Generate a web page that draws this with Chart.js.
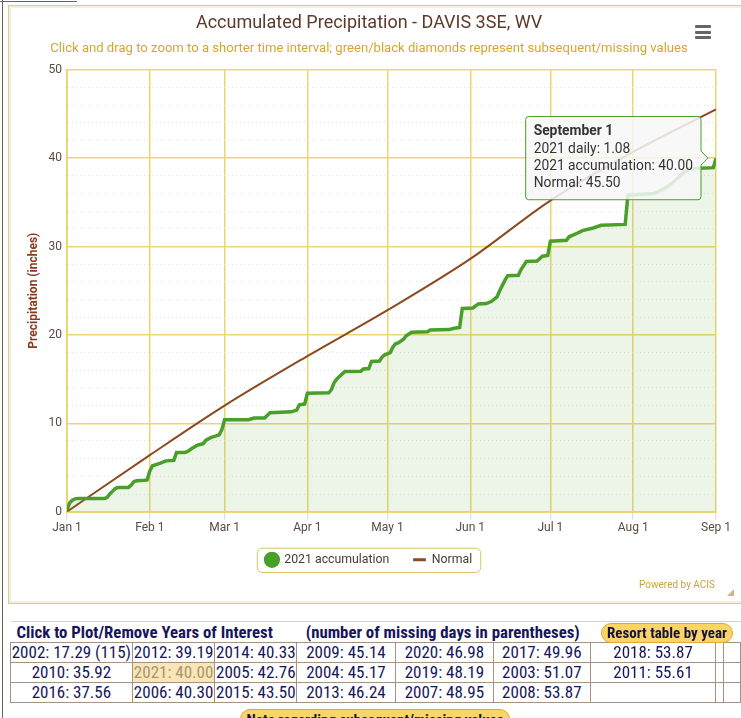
<!DOCTYPE html>
<html>
<head>
<meta charset="utf-8">
<script src="https://cdn.jsdelivr.net/npm/chart.js@4/dist/chart.umd.min.js"></script>
<style>
  body { margin: 0; background: #fff; width: 741px; height: 718px; overflow: hidden; position: relative; font-family: Roboto, sans-serif; }
  #edge { position: absolute; left: 2px; top: 0; width: 1px; height: 718px; background: #7b5e52; }
  #tab { position: absolute; left: 0; top: 1px; width: 77px; height: 1px; background: #7b5e52; }
  #frame { position: absolute; left: 8px; top: 5px; width: 760px; height: 597px; border: 1px solid #d9c99c; box-shadow: inset 0 0 0 2px #f4eedb; }
  #wrap { position: absolute; left: 9px; top: 6px; width: 729px; height: 596px; }
  #menu { position: absolute; left: 695px; top: 25px; width: 16px; }
  #menu div { height: 3px; background: #666; margin-bottom: 2.5px; border-radius: 1px; }
  #credit { position: absolute; right: 26px; top: 579px; font-size: 10px; color: #c9a43c; }
  #grip { position: absolute; left: 727px; top: 589px; width: 0; height: 0; border-left: 7px solid transparent; border-bottom: 7px solid #c8b88a; }
  #yrs { position: absolute; left: 10px; top: 621px; border-collapse: collapse; table-layout: fixed;
         font-family: "Liberation Sans Narrow", "Roboto Condensed", Roboto, sans-serif; font-size: 17px; color: #16165a; }
  #yrs td { border: 1px solid #a8917f; height: 19px; padding: 0; text-align: center; white-space: nowrap; overflow: hidden; line-height: 19px; }
  #yrs tr.hd td { border-top-color: #d6d0c8; border-left: none; border-right: none; font-weight: bold; text-align: left; height: 20px; font-size: 16.8px; }
  #yrs td.sel { background: #fbe5b6; color: #a39672; }
  .btn { position: absolute; background: #f9d468; border: 1px solid #e0ab33; border-radius: 10px;
         font-family: "Liberation Sans Narrow", "Roboto Condensed", Roboto, sans-serif; font-weight: bold; color: #14143a; text-align: center; }
</style>
</head>
<body>
<div id="edge"></div>
<div id="tab"></div>
<div id="frame"></div>
<div id="wrap"><canvas id="precipChart"></canvas></div>
<div id="menu"><div></div><div></div><div></div></div>
<div id="credit">Powered by ACIS</div>
<div id="grip"></div>
<table id="yrs"></table>
<div class="btn" style="left:601px; top:623px; width:130px; height:18px; line-height:18px; font-size:15px;">Resort table by year</div>
<div class="btn" style="left:240px; top:709px; width:268px; height:20px; line-height:20px; font-size:15px;">Note regarding subsequent/missing values</div>

<script>
// day of year (0 = Jan 1) and 2021 accumulated precipitation (inches)
const days2021 = [0, 1, 2, 3, 4, 14, 15, 16, 17, 18, 19, 23, 24, 25, 26, 29, 30, 31, 32, 33,
  35, 37, 40, 41, 44, 45, 47, 49, 51, 52, 54, 55, 57, 58, 59, 68, 70, 74, 76, 84,
  86, 87, 89, 90, 98, 99, 100, 101, 102, 104, 110, 111, 113, 114, 117, 118, 119, 121, 122, 123,
  124, 126, 127, 129, 135, 136, 143, 145, 147, 148, 152, 154, 157, 159, 161, 162, 163, 164, 165, 169,
  170, 172, 176, 178, 180, 181, 187, 188, 191, 193, 197, 200, 209, 210, 220, 222, 225, 227, 229, 231,
  233, 242, 243];
const accum2021 = [0.2, 1.0, 1.3, 1.45, 1.5, 1.5, 1.6, 2.0, 2.3, 2.6, 2.75, 2.75, 3.0, 3.4, 3.5, 3.55, 3.6, 4.6, 5.2, 5.3,
  5.5, 5.75, 5.8, 6.7, 6.7, 6.8, 7.2, 7.55, 7.7, 8.1, 8.4, 8.5, 8.7, 9.3, 10.4, 10.4, 10.6, 10.6, 11.2, 11.3,
  11.5, 12.1, 12.2, 13.4, 13.45, 13.8, 14.6, 15.0, 15.3, 15.85, 15.9, 16.15, 16.2, 17.0, 17.05, 17.5, 17.75, 18.0, 18.6, 19.0,
  19.1, 19.5, 19.9, 20.3, 20.35, 20.55, 20.6, 20.75, 20.85, 23.0, 23.05, 23.5, 23.55, 23.8, 24.3, 25.0, 25.6, 26.2, 26.7, 26.75,
  27.4, 28.3, 28.35, 28.9, 29.0, 30.6, 30.7, 31.1, 31.5, 31.8, 32.1, 32.4, 32.5, 35.8, 36.0, 36.3, 36.8, 37.3, 37.8, 38.4,
  38.8, 38.92, 40.0];

// normal accumulation at the start of each month
const monthDays = [0, 31, 59, 90, 120, 151, 181, 212, 243];
const monthLabels = ['Jan 1', 'Feb 1', 'Mar 1', 'Apr 1', 'May 1', 'Jun 1', 'Jul 1', 'Aug 1', 'Sep 1'];
const normalAccum = [0, 6.4, 12.0, 17.6, 22.8, 28.6, 35.2, 40.7, 45.5];

const tooltipDate = 'September 1';

// table of year totals below the chart (row by row)
const yearRows = [
  ['2002: 17.29 (115)', '2012: 39.19', '2014: 40.33', '2009: 45.14', '2020: 46.98', '2017: 49.96', '2018: 53.87'],
  ['2010: 35.92', '2021: 40.00', '2005: 42.76', '2004: 45.17', '2019: 48.19', '2003: 51.07', '2011: 55.61'],
  ['2016: 37.56', '2006: 40.30', '2015: 43.50', '2013: 46.24', '2007: 48.95', '2008: 53.87', '']
];

const green = '#4a9f2a';
const brown = '#8b4a1f';
const gridYellow = '#ecd674';

// build the table
const colWidths = [122, 83, 82, 99, 99, 97, 133, 8, 20];
const table = document.getElementById('yrs');
let html = '<colgroup>' + colWidths.map(w => '<col style="width:' + w + 'px">').join('') + '</colgroup>';
html += '<tr class="hd"><td colspan="3" style="padding-left:6px">Click to Plot/Remove Years of Interest</td>' +
        '<td colspan="3" style="padding-left:9px">(number of missing days in parentheses)</td><td colspan="3"></td></tr>';
yearRows.forEach(row => {
  html += '<tr>' + row.map(c => '<td' + (c.startsWith('2021') ? ' class="sel"' : '') + '>' + c + '</td>').join('') + '<td></td><td></td></tr>';
});
table.innerHTML = html;

Chart.defaults.font.family = 'Roboto, "Noto Sans", sans-serif';
Chart.Tooltip.positioners.first = function (items) {
  if (!items.length) return false;
  return { x: items[0].element.x, y: items[0].element.y };
};

// the x axis is kept short so the legend sits close; let its labels draw below it
const axisRoom = {
  id: 'axisRoom',
  afterLayout(chart) {
    const x = chart.scales.x;
    x.bottom = x.top + 34;
  }
};

const legendBox = {
  id: 'legendBox',
  afterDraw(chart) {
    const boxes = chart.legend.legendHitBoxes;
    if (!boxes || !boxes.length) return;
    const left = Math.min(...boxes.map(b => b.left)) - 9;
    const right = Math.max(...boxes.map(b => b.left + b.width)) + 8;
    const top = Math.min(...boxes.map(b => b.top)) - 6;
    const bottom = Math.max(...boxes.map(b => b.top + b.height)) + 6;
    const ctx = chart.ctx;
    ctx.save();
    ctx.strokeStyle = '#d9c26a';
    ctx.lineWidth = 1;
    ctx.beginPath();
    ctx.roundRect(left + 0.5, top + 0.5, right - left, bottom - top, 5);
    ctx.stroke();
    ctx.restore();
  }
};

const ctx = document.getElementById('precipChart').getContext('2d');
const chart = new Chart(ctx, {
  type: 'line',
  data: {
    datasets: [
      {
        label: '2021 accumulation',
        data: days2021.map((d, i) => ({ x: d, y: accum2021[i] })),
        borderColor: green,
        backgroundColor: 'rgba(100,175,60,0.12)',
        borderWidth: 3.5,
        fill: 'origin',
        pointRadius: 0,
        pointHoverRadius: 0,
        pointStyle: 'circle',
        tension: 0
      },
      {
        label: 'Normal',
        data: monthDays.map((d, i) => ({ x: d, y: normalAccum[i] })),
        borderColor: brown,
        backgroundColor: brown,
        borderWidth: 2,
        fill: false,
        pointRadius: 0,
        pointHoverRadius: 0,
        pointStyle: 'line',
        cubicInterpolationMode: 'monotone'
      }
    ]
  },
  options: {
    responsive: true,
    maintainAspectRatio: false,
    animation: false,
    events: [],
    layout: { padding: { left: 13, right: 22, top: 0, bottom: 26 } },
    scales: {
      x: {
        type: 'linear',
        min: 0,
        max: 243,
        afterBuildTicks: scale => { scale.ticks = monthDays.map(v => ({ value: v })); },
        afterFit: scale => { scale.height = 18; },
        ticks: {
          autoSkip: false,
          maxRotation: 0,
          padding: 1,
          color: '#5a4a42',
          font: { size: 12 },
          callback: v => monthLabels[monthDays.indexOf(v)]
        },
        grid: { color: gridYellow, lineWidth: 1.5, tickColor: '#ccd6eb', tickLength: 8, tickWidth: 1 },
        border: { color: gridYellow, width: 2 }
      },
      y: {
        min: 0,
        max: 50,
        afterFit: scale => { scale.width = 45; },
        ticks: {
          stepSize: 2,
          autoSkip: false,
          padding: 5,
          color: '#5a4a42',
          font: { size: 12 },
          callback: v => (v % 10 === 0 ? v : '')
        },
        grid: {
          drawTicks: false,
          color: c => (c.tick && c.tick.value % 10 === 0 ? gridYellow : '#e3e3e3'),
          lineWidth: c => (c.tick && c.tick.value % 10 === 0 ? 1.5 : 1)
        },
        border: {
          color: gridYellow,
          width: 2,
          dash: c => (c.tick && c.tick.value % 10 !== 0 ? [1, 3] : [])
        },
        title: {
          display: true,
          text: 'Precipitation (inches)',
          color: '#8b3a1c',
          font: { size: 12, weight: 'bold' },
          padding: { top: 5, bottom: 0 }
        }
      }
    },
    plugins: {
      title: {
        display: true,
        text: 'Accumulated Precipitation - DAVIS 3SE, WV',
        color: '#5d3a29',
        font: { size: 18, weight: 'normal' },
        padding: { top: 7, bottom: 6 }
      },
      subtitle: {
        display: true,
        text: 'Click and drag to zoom to a shorter time interval; green/black diamonds represent subsequent/missing values',
        color: '#d4a72c',
        font: { size: 13.1 },
        padding: { top: 0, bottom: 13.4 }
      },
      legend: {
        position: 'bottom',
        labels: {
          usePointStyle: true,
          boxHeight: 9,
          padding: 24,
          color: '#4a3a34',
          font: { size: 12.3 },
          generateLabels: c => {
            const items = Chart.defaults.plugins.legend.labels.generateLabels(c);
            items[0].fillStyle = green;
            items[0].strokeStyle = green;
            items[0].pointStyle = 'circle';
            items[1].pointStyle = 'line';
            items[1].strokeStyle = brown;
            items[1].lineWidth = 3;
            return items;
          }
        }
      },
      tooltip: {
        position: 'first',
        xAlign: 'right',
        yAlign: 'center',
        backgroundColor: 'rgba(247,247,247,0.85)',
        borderColor: green,
        borderWidth: 1,
        cornerRadius: 3,
        padding: { left: 8, right: 8, top: 7, bottom: 8 },
        caretSize: 7,
        caretPadding: 8,
        displayColors: false,
        titleColor: '#333',
        bodyColor: '#333',
        titleFont: { size: 13.8, weight: 'bold' },
        bodyFont: { size: 13.8 },
        titleMarginBottom: 1,
        bodySpacing: 0.5,
        callbacks: {
          title: () => tooltipDate,
          label: item => {
            if (item.datasetIndex === 0) {
              const i = item.dataIndex;
              const daily = i > 0 ? accum2021[i] - accum2021[i - 1] : accum2021[i];
              return ['2021 daily: ' + daily.toFixed(2), '2021 accumulation: ' + item.parsed.y.toFixed(2)];
            }
            return 'Normal: ' + item.parsed.y.toFixed(2);
          }
        }
      }
    }
  },
  plugins: [axisRoom, legendBox]
});

chart.tooltip.setActiveElements([
  { datasetIndex: 0, index: days2021.length - 1 },
  { datasetIndex: 1, index: monthDays.length - 1 }
], { x: 0, y: 0 });
chart.update();
</script>
</body>
</html>
